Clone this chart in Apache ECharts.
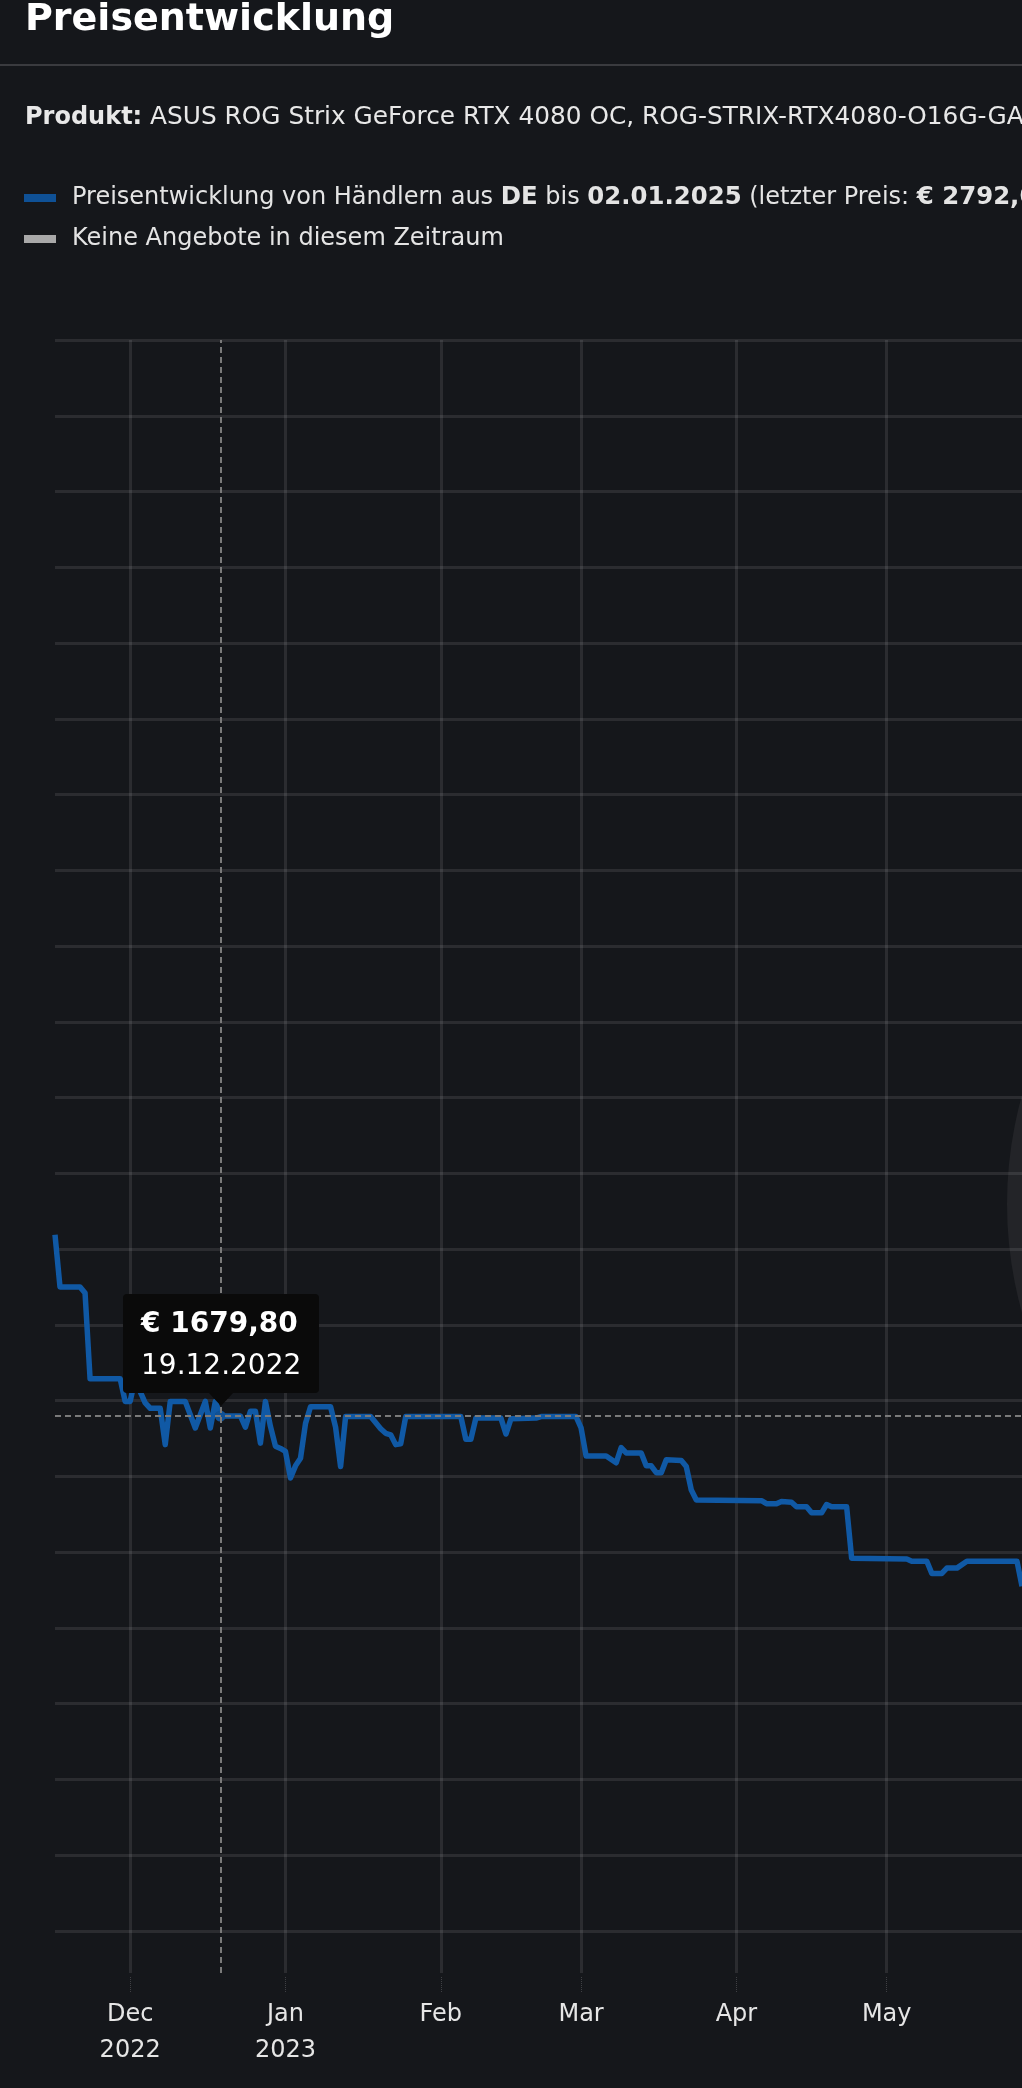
<!DOCTYPE html>
<html>
<head>
<meta charset="utf-8">
<script src="https://cdn.jsdelivr.net/npm/echarts@6.0.0/dist/echarts.min.js"></script>
<style>
  html, body { margin: 0; padding: 0; background: #15171b; overflow: hidden; }
  #chart { width: 1022px; height: 2088px; }
</style>
</head>
<body>
<div id="chart"></div>
<script>
// ---- data ----
const dates = [
  '2022-11-16','2022-11-17','2022-11-21','2022-11-22','2022-11-23','2022-11-29','2022-11-30',
  '2022-12-01','2022-12-02','2022-12-03','2022-12-04','2022-12-05','2022-12-07','2022-12-08','2022-12-09',
  '2022-12-12','2022-12-14','2022-12-16','2022-12-17','2022-12-18','2022-12-19','2022-12-20','2022-12-23',
  '2022-12-24','2022-12-25','2022-12-26','2022-12-27','2022-12-28','2022-12-29','2022-12-30','2022-12-31',
  '2023-01-01','2023-01-02','2023-01-03','2023-01-04','2023-01-05','2023-01-06','2023-01-10','2023-01-11',
  '2023-01-12','2023-01-13','2023-01-18','2023-01-20','2023-01-21','2023-01-22','2023-01-23','2023-01-24',
  '2023-01-25','2023-02-05','2023-02-06','2023-02-07','2023-02-08','2023-02-13','2023-02-14','2023-02-15',
  '2023-02-20','2023-02-21','2023-02-28','2023-03-01','2023-03-02','2023-03-06','2023-03-08','2023-03-09',
  '2023-03-10','2023-03-13','2023-03-14','2023-03-15','2023-03-16','2023-03-17','2023-03-18','2023-03-21',
  '2023-03-22','2023-03-23','2023-03-24','2023-04-06','2023-04-07','2023-04-09','2023-04-10','2023-04-12',
  '2023-04-13','2023-04-15','2023-04-16','2023-04-18','2023-04-19','2023-04-20','2023-04-23','2023-04-24',
  '2023-05-05','2023-05-06','2023-05-09','2023-05-10','2023-05-12','2023-05-13','2023-05-15','2023-05-17',
  '2023-05-27','2023-05-28'
];
const prices = [
  1919, 1850, 1850, 1842, 1729, 1729, 1699,
  1699, 1729, 1712, 1697, 1690, 1690, 1642, 1699,
  1699, 1664, 1699, 1664, 1699, 1679.80, 1679.80, 1679.80,
  1665, 1686, 1686, 1644, 1699, 1666, 1640, 1637,
  1633, 1598, 1614, 1624, 1670, 1692, 1692, 1665,
  1613, 1679, 1679, 1663, 1657, 1655, 1642, 1643,
  1679, 1679, 1649, 1649, 1677, 1677, 1656, 1676,
  1677, 1679, 1679, 1664, 1627, 1627, 1618, 1638,
  1631, 1631, 1614, 1614, 1605, 1605, 1622, 1621,
  1613, 1582, 1569, 1568, 1564, 1564, 1567, 1566,
  1560, 1560, 1552, 1552, 1563, 1560, 1560, 1492,
  1491, 1488, 1488, 1472, 1472, 1479, 1479, 1488,
  1488, 1455
];
const tickDates = ['2022-12-01','2023-01-01','2023-02-01','2023-03-01','2023-04-01','2023-05-01'];
const tickLabels = ['Dec\n2022','Jan\n2023','Feb','Mar','Apr','May'];
const axisStart = '2022-11-16';
const axisEnd = '2023-05-28';
const seriesNames = [
  'Preisentwicklung von Händlern aus DE bis 02.01.2025 (letzter Preis: € 2792,00)',
  'Keine Angebote in diesem Zeitraum'
];
const tooltipDate = '2022-12-19';

// ---- build ----
const dayCategories = [];
(function () {
  const p0 = axisStart.split('-').map(Number), p1 = axisEnd.split('-').map(Number);
  const t0 = Date.UTC(p0[0], p0[1] - 1, p0[2]), t1 = Date.UTC(p1[0], p1[1] - 1, p1[2]);
  for (let t = t0; t <= t1; t += 86400000) dayCategories.push(new Date(t).toISOString().slice(0, 10));
})();
const lineData = dates.map((d, i) => [d, prices[i]]);
const isTick = (idx, val) => tickDates.indexOf(val) >= 0;

const FONT = '"DejaVu Sans", Verdana, sans-serif';
const GRID = 'rgba(255,255,255,0.095)';
const BLUE = '#0f5196';

const chart = echarts.init(document.getElementById('chart'), null, { renderer: 'canvas' });
chart.setOption({
  backgroundColor: '#15171b',
  animation: false,
  textStyle: { fontFamily: FONT },
  graphic: [
    { type: 'circle', z: -10, silent: true, shape: { cx: 1410, cy: 1204, r: 403 }, style: { fill: '#232428' } },
    { type: 'text', x: 25, y: 20, silent: true,
      style: { text: 'Preisentwicklung', fill: '#ffffff', font: 'bold 38px ' + FONT, verticalAlign: 'middle' } },
    { type: 'line', silent: true, shape: { x1: 0, y1: 65, x2: 1022, y2: 65 }, style: { stroke: '#3a3b3f', lineWidth: 2 } },
    { type: 'text', x: 25, y: 118, silent: true,
      style: {
        text: '{b|Produkt:} ASUS ROG Strix GeForce RTX 4080 OC, ROG-STRIX-RTX4080-O16G-GAMING',
        fill: '#e8e8e8', font: '24.8px ' + FONT, verticalAlign: 'middle',
        rich: { b: { fontWeight: 'bold', fontSize: 24, fontFamily: FONT, fill: '#e8e8e8' } }
      } }
  ],
  legend: {
    orient: 'vertical', left: 24, top: 186, itemGap: 17, padding: 0,
    icon: 'rect', itemWidth: 32, itemHeight: 8, selectedMode: false,
    data: seriesNames,
    formatter: function (name) {
      if (name === seriesNames[0]) {
        return 'Preisentwicklung von Händlern aus {b|DE} bis {b|02.01.2025} (letzter Preis: {b|€ 2792,00})';
      }
      return name;
    },
    textStyle: {
      color: '#e4e4e4', fontSize: 24, fontFamily: FONT, lineHeight: 24, padding: [0, 0, 0, 11],
      rich: { b: { fontWeight: 'bold', fontSize: 24.4, fontFamily: FONT, color: '#e4e4e4' } }
    }
  },
  grid: { left: 55, right: 0, top: 340, bottom: 115, containLabel: false, outerBoundsMode: 'none' },
  tooltip: {
    trigger: 'axis',
    alwaysShowContent: true,
    transitionDuration: 0,
    backgroundColor: '#0a0a0a',
    borderWidth: 0,
    borderRadius: 4,
    padding: [8, 18, 7, 18],
    textStyle: { color: '#ffffff', fontSize: 28, fontFamily: FONT },
    extraCssText: 'box-shadow:none;line-height:42px;',
    axisPointer: {
      type: 'cross',
      label: { show: false },
      lineStyle: { color: '#7a7a7a', width: 2, type: [6, 4] },
      crossStyle: { color: '#7a7a7a', width: 2, type: [6, 4] }
    },
    position: function (point, params, dom, rect, size) {
      return [point[0] - size.contentSize[0] / 2 + 1, point[1] - size.contentSize[1] - 23];
    },
    formatter: function (params) {
      const p = params[0];
      const v = p.value[1];
      const d = p.value[0].split('-');
      return '<div style="font-weight:bold">€ ' + v.toFixed(2).replace('.', ',') + '</div>' +
             '<div>' + d[2] + '.' + d[1] + '.' + d[0] + '</div>' +
             '<div style="position:absolute;left:50%;bottom:-13px;margin-left:-12px;width:0;height:0;' +
             'border-left:12px solid transparent;border-right:12px solid transparent;border-top:13px solid #0a0a0a;"></div>';
    }
  },
  xAxis: {
    type: 'category',
    data: dayCategories,
    boundaryGap: false,
    offset: 4,
    axisLine: { show: false },
    axisTick: { show: true, interval: isTick, length: 15, lineStyle: { color: 'rgba(255,255,255,0.18)', width: 1, type: 'dotted' } },
    splitLine: { show: true, interval: isTick, lineStyle: { color: GRID, width: 3 } },
    axisLabel: {
      interval: isTick, margin: 20, color: '#e6e6e6', fontSize: 24, fontFamily: FONT, lineHeight: 36,
      formatter: function (val) { const i = tickDates.indexOf(val); return i >= 0 ? tickLabels[i] : ''; }
    }
  },
  yAxis: {
    type: 'value',
    min: 944.6, max: 3100,
    minInterval: 100, maxInterval: 100,
    axisLine: { show: false }, axisTick: { show: false }, axisLabel: { show: false },
    splitLine: { show: true, showMinLine: false, lineStyle: { color: GRID, width: 3 } }
  },
  series: [
    {
      name: seriesNames[0], type: 'line', data: lineData,
      showSymbol: false, symbol: 'circle', symbolSize: 11,
      color: BLUE,
      lineStyle: { color: BLUE, width: 5.5, join: 'round' },
      itemStyle: { color: BLUE, borderWidth: 0 },
      emphasis: { scale: false, lineStyle: { width: 5.5 }, itemStyle: { color: BLUE, borderWidth: 0 } },
      z: 3
    },
    {
      name: seriesNames[1], type: 'line', data: [], color: '#a9a9a9',
      lineStyle: { color: '#a9a9a9', width: 5 }, itemStyle: { color: '#a9a9a9' }
    }
  ]
});
chart.dispatchAction({ type: 'showTip', seriesIndex: 0, dataIndex: dates.indexOf(tooltipDate) });
</script>
</body>
</html>
